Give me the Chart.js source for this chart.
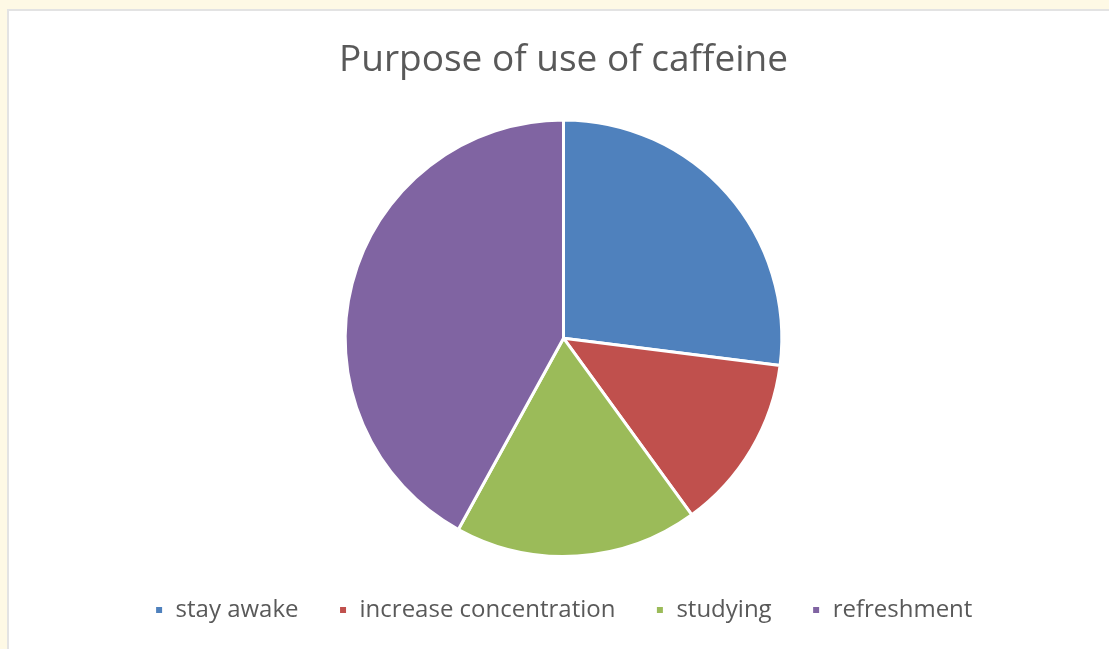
<!DOCTYPE html>
<html>
<head>
<meta charset="utf-8">
<title>Purpose of use of caffeine</title>
<script src="https://cdn.jsdelivr.net/npm/chart.js@4/dist/chart.umd.min.js"></script>
<style>
    html, body { margin: 0; padding: 0; }
    body { background: #fef9e5; width: 1109px; height: 649px; overflow: hidden; position: relative; }
    #frame {
        position: absolute; left: 7px; top: 9px; width: 1200px; height: 700px;
        background: #ffffff; border: 2px solid #e3e3e3;
    }
    #pieChart { position: absolute; left: 0; top: 0; }
</style>
</head>
<body>
<div id="frame"></div>
<canvas id="pieChart" width="1109" height="649"></canvas>
<script>
var labels = ['stay awake', 'increase concentration', 'studying', 'refreshment'];
var values = [27, 13, 18, 42];
var colors = ['#4f81bd', '#c0504d', '#9bbb59', '#8064a2'];

var ctx = document.getElementById('pieChart').getContext('2d');
var pieChart = new Chart(ctx, {
    type: 'pie',
    data: {
        labels: labels,
        datasets: [{
            data: values,
            backgroundColor: colors,
            borderColor: '#ffffff',
            borderWidth: 3
        }]
    },
    options: {
        responsive: false,
        animation: false,
        layout: { padding: { left: 18, right: 0, top: 0, bottom: 17 } },
        plugins: {
            title: {
                display: true,
                text: 'Purpose of use of caffeine',
                color: '#595959',
                font: { family: 'Open Sans', size: 37, weight: 'normal' },
                padding: { top: 38, bottom: 36 }
            },
            legend: {
                position: 'bottom',
                labels: {
                    boxWidth: 9,
                    boxHeight: 9,
                    padding: 40,
                    color: '#595959',
                    font: { family: 'Open Sans', size: 24 }
                }
            },
            tooltip: { enabled: false }
        }
    }
});
</script>
</body>
</html>
